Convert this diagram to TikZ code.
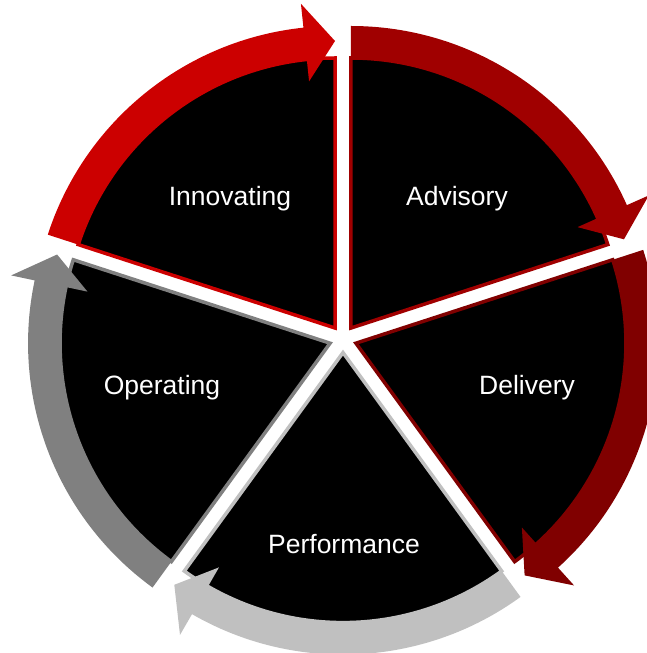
\documentclass[tikz,border=0pt]{standalone}
\usepackage{fontspec}
\setmainfont{Liberation Sans}
\usetikzlibrary{positioning}
\definecolor{innored}{HTML}{CC0000}
\definecolor{advired}{HTML}{A00000}
\definecolor{delired}{HTML}{800000}
\definecolor{perfgray}{HTML}{C0C0C0}
\definecolor{opergray}{HTML}{808080}
\tikzset{x=1pt, y=1pt, % one unit is one pixel of the picture
	part/.style={fill=black, line width=3.5pt, line join=miter}, % the black pie pieces
	label/.style={text=white, font=\fontsize{26.5}{30}\selectfont}, % the white names
}
% one piece of the cycle: #1 = middle angle, #2 = colour
\newcommand{\cyclepart}[2]{%
	\begin{scope}[shift={(#1:13.6)}]
		\draw[part, draw=#2] (0,0) -- ({#1+36}:270) arc[start angle={#1+36}, end angle={#1-36}, radius=270] -- cycle;
		% the curved arrow on the rim
		\fill[#2] ({#1+36}:270) arc[start angle={#1+36}, end angle={#1-30}, radius=270]
			-- ({#1-30}:248) -- ({#1-36}:287) -- ({#1-30}:326) -- ({#1-30}:302)
			arc[start angle={#1-30}, end angle={#1+36}, radius=302] -- cycle;
	\end{scope}}

\begin{document}
\begin{tikzpicture}
	\useasboundingbox (-343,-314) rectangle (303,339);
	% the five pieces, clockwise from the top left
	\cyclepart{126}{innored}
	\cyclepart{54}{advired}
	\cyclepart{-18}{delired}
	\cyclepart{-90}{perfgray}
	\cyclepart{-162}{opergray}
	%% names
	\node[label] (Innovating) at (-113,140) {Innovating};
	\node[label] (Advisory) at (114,140) {Advisory};
	\node[label] (Delivery) at (184,-49) {Delivery};
	\node[label] (Performance) at (1,-205) {Performance};
	\node[label] (Operating) at (-181,-49) {Operating};
\end{tikzpicture}
\end{document}
